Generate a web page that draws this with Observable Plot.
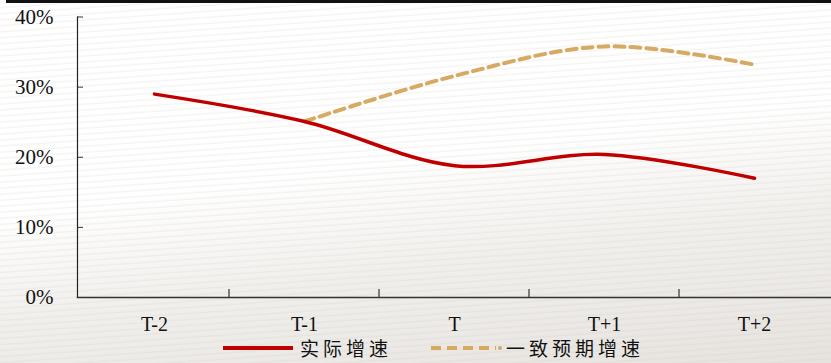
<!DOCTYPE html>
<html><head><meta charset="utf-8">
<script src="https://cdn.jsdelivr.net/npm/d3@7"></script>
<script src="https://cdn.jsdelivr.net/npm/@observablehq/plot@0.6"></script>
<style>
html,body{margin:0;padding:0;}
#wrap{position:relative;width:831px;height:363px;overflow:hidden;
 background:
  repeating-linear-gradient(-4deg, rgba(255,255,255,0) 0px, rgba(255,255,255,0) 3px, rgba(200,195,188,0.18) 4px, rgba(255,255,255,0) 6px),
  linear-gradient(172deg, #ffffff 0%, #ffffff 45%, #f1efec 68%, #e6e3df 100%);}
#topbar{position:absolute;left:6px;top:0;width:825px;height:3px;background:#111;}
#chart svg{display:block;background:transparent !important;}
#legend{position:absolute;left:0;top:337px;width:831px;height:22px;font-family:"Noto Sans CJK SC",sans-serif;font-size:19px;line-height:22px;color:#111;}
#legend .item{position:absolute;top:0;display:flex;align-items:center;height:22px;}
</style></head>
<body><div id="wrap"><div id="topbar"></div><div id="chart"></div>
<div id="legend">
 <div class="item" style="left:222px"><svg width="72" height="10"><line x1="1" y1="5" x2="71" y2="5" stroke="#C00000" stroke-width="4"/></svg><span style="margin-left:6px;letter-spacing:4px">实际增速</span></div>
 <div class="item" style="left:430px"><svg width="72" height="10"><line x1="1" y1="5" x2="66" y2="5" stroke="#D6AA63" stroke-width="4" stroke-dasharray="10,6"/><circle cx="70" cy="5" r="2" fill="#D6AA63"/></svg><span style="margin-left:4px;letter-spacing:4px">一致预期增速</span></div>
</div></div>
<script>
const categories = ["T-2","T-1","T","T+1","T+2"];
const actualGrowth = [29.0, 25.1, 18.8, 20.4, 17.0];
const consensusCats = ["T-1","T","T+1","T+2"];
const consensusGrowth = [25.1, 31.6, 35.8, 33.2];
const yTicks = [0,10,20,30,40];

const actual = categories.map((c,i)=>({cat:c, v:actualGrowth[i]}));
const consensus = consensusCats.map((c,i)=>({cat:c, v:consensusGrowth[i]}));
const serif = "'Liberation Serif','Times New Roman',serif";

const plot = Plot.plot({
  width: 831, height: 336,
  marginLeft: 77, marginRight: 0, marginTop: 16.5, marginBottom: 39,
  style: {background:"transparent", fontFamily: serif, fontSize:"20px", color:"#111"},
  x: {type:"band", domain: categories, padding: 0, axis: null},
  y: {domain:[0,40], axis: null},
  marks: [
    Plot.axisY(yTicks, {tickSize: 0, tickPadding: 24, tickFormat: d=>d+"%", fontSize: 21, fontFamily: serif, label: null}),
    Plot.axisY(yTicks, {tickSize: -6, tickFormat: ()=>"", stroke:"#333", label: null}),
    Plot.axisX({tickSize: 0, tickPadding: 19, fontSize: 20, fontFamily: serif, label: null}),
    Plot.frame({anchor:"left", stroke:"#222", strokeWidth:1.2}),
    Plot.frame({anchor:"bottom", stroke:"#333", strokeWidth:1.5}),
    Plot.line(consensus, {x:"cat", y:"v", stroke:"#D6AA63", strokeWidth:4, strokeDasharray:"10,6", curve:"catmull-rom"}),
    Plot.line(actual, {x:"cat", y:"v", stroke:"#C00000", strokeWidth:3.5, curve:"catmull-rom"})
  ]
});
document.getElementById("chart").appendChild(plot);

// boundary ticks on x axis pointing upward, placed with the band scale
const xs = plot.scale("x");
const ys = plot.scale("y");
const y0 = ys.apply(0);
const svg = d3.select(plot);
categories.slice(1).forEach(c=>{
  const x = xs.apply(c);
  svg.append("line").attr("x1",x).attr("x2",x).attr("y1",y0).attr("y2",y0-8)
    .attr("stroke","#333").attr("stroke-width",1.2);
});
</script></body></html>
